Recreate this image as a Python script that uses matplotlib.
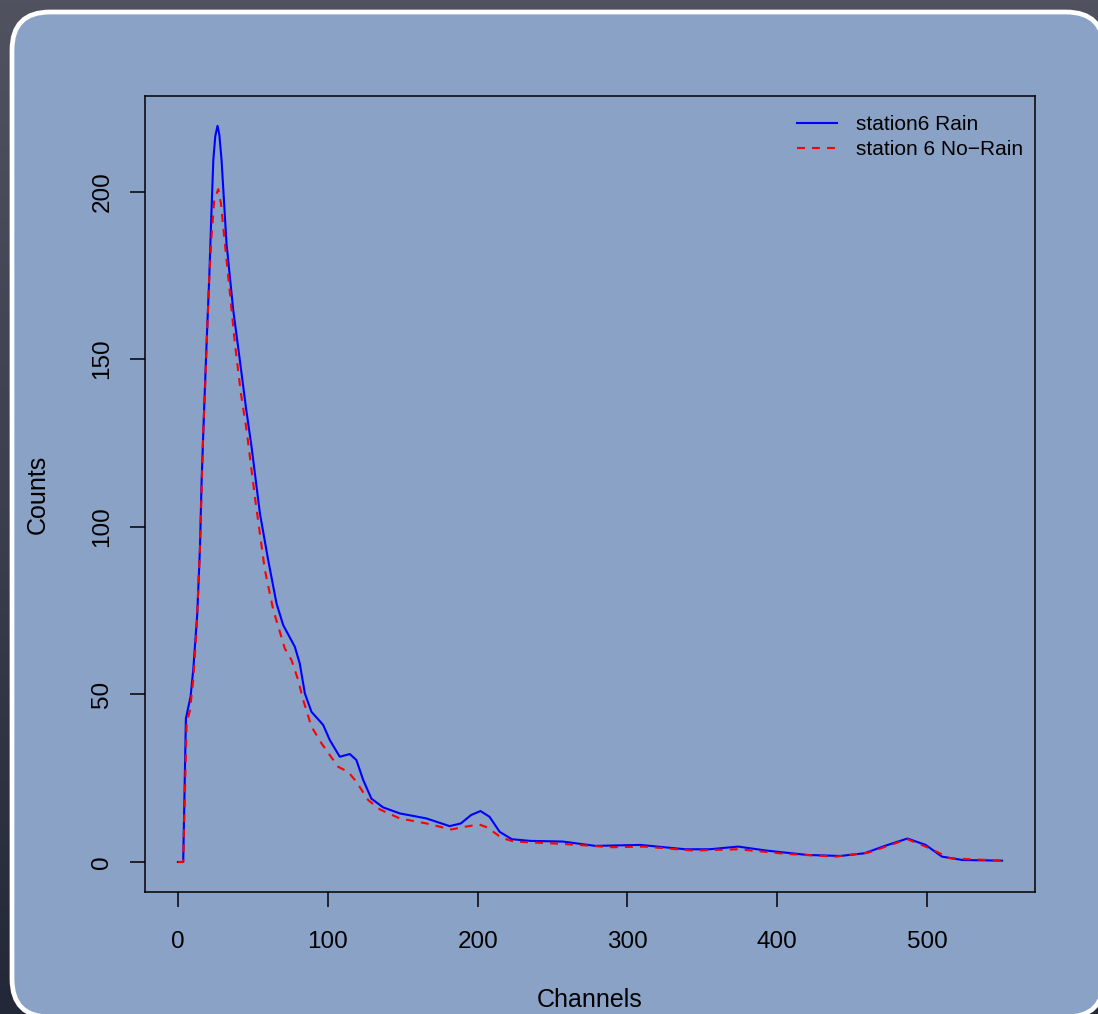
import numpy as np
import matplotlib
matplotlib.use("Agg")
import matplotlib.pyplot as plt
from matplotlib.patches import FancyBboxPatch
from matplotlib.colors import LinearSegmentedColormap

# ---- data ----
rain_x = [0, 3.5, 5.3, 8.4, 10.2, 12.9, 14.7, 15.8, 17.6, 19.1, 20.9, 22.4, 23.6, 24.9, 26.4,
          27.6, 29.1, 32.4, 36.9, 41.3, 45.3, 49.1, 54.7, 60.2, 65.8, 70.2, 78, 81.3,
          84.7, 89.1, 96.9, 101.3, 108, 114.7, 119.1, 123.6, 129.1, 136.9, 148, 165.8,
          181.3, 188.8, 195.6, 201.9, 207.9, 214.7, 222.8, 235, 256.9, 278.6,
          308.5, 338.5, 354.8, 373.9, 392.9, 420.1, 441.9, 458.2, 471.8, 486.8, 499,
          509.9, 523.5, 550]
rain_y = [0, 0, 42.8, 49.3, 57.3, 74.2, 94, 114, 136.8, 154.7, 174.6, 194.5, 209.4, 216.5, 219.6,
          217, 209.4, 184.5, 164.6, 149.7, 135.8, 123.9, 104, 90.1, 77.1, 70.7, 64.2, 59.2,
          50.3, 44.8, 40.9, 36.4, 31.4, 32.2, 30.4, 24.5, 18.9, 16.3, 14.5, 13,
          10.7, 11.5, 14, 15.2, 13.5, 9, 6.8, 6.3, 6.1, 4.8,
          5.1, 3.8, 3.8, 4.6, 3.4, 2.1, 1.8, 2.6, 4.8, 7.0, 5.1,
          1.6, 0.6, 0.4]

norain_x = [0, 3.5, 5.8, 8, 10.2, 12.4, 14.7, 16.9, 18, 19.6, 20.9, 22.4, 24.2, 26.9,
            28.7, 31.3, 34.7, 38, 42, 45.8, 51.3, 58, 63.6, 71.3, 75.8, 80.2, 83.6, 89.1,
            95.8, 101.3, 106.9, 113.6, 119.1, 126.9, 134.7, 148, 165.8, 182.4, 191.5, 201,
            206.5, 216, 224.2, 256.9, 289.5, 311.3, 343.9, 373.9, 406.5, 439.1, 460.9,
            486.8, 501.7, 515.3, 550]
norain_y = [0, 0, 41.4, 45.3, 54.3, 69.2, 94, 129, 139.8, 159.6, 174.6, 186.5, 197.4, 200.7,
            196.4, 184.5, 169.6, 154.7, 139.8, 128.8, 109, 87.1, 75.2, 63.7, 60.2, 54.3, 48.3, 40.4,
            35.4, 31.9, 28.4, 26.9, 23.9, 18.5, 15.7, 13, 11.5, 9.7, 10.5, 11.2,
            10.3, 7.2, 6.1, 5.4, 4.4, 4.6, 3.4, 3.8, 2.4, 1.6, 2.8,
            6.8, 4.1, 1.1, 0.4]

series_labels = ["station6 Rain", "station 6 No\u2212Rain"]
x_ticks = [0, 100, 200, 300, 400, 500]
y_ticks = [0, 50, 100, 150, 200]
x_label = "Channels"
y_label = "Counts"

# ---- figure ----
W, H = 1098, 1014
plt.rcParams['font.family'] = ['Liberation Sans', 'DejaVu Sans']
fig = plt.figure(figsize=(W / 100, H / 100), dpi=100)

# background axes in pixel units
bg = fig.add_axes([0, 0, 1, 1], zorder=0)
bg.set_xlim(0, W)
bg.set_ylim(H, 0)
bg.axis('off')
grad = np.linspace(0, 1, 256).reshape(-1, 1)
cm = LinearSegmentedColormap.from_list('bgc', ['#50535f', '#3b3f4e', '#232838'])
bg.imshow(grad, cmap=cm, extent=[0, W, H, 0], aspect='auto', zorder=0)
r = 38
pl, pt, pr, pb = 12, 12, 1104, 1017
panel = FancyBboxPatch((pl + r, pt + r), (pr - pl) - 2 * r, (pb - pt) - 2 * r,
                       boxstyle="round,pad=%d" % r, facecolor='#89a2c6',
                       edgecolor='white', linewidth=3.4, zorder=1, clip_on=False)
bg.add_patch(panel)

left, right, top, bottom = 145, 1035, 96, 892
ax = fig.add_axes([left / W, (H - bottom) / H, (right - left) / W, (bottom - top) / H], zorder=2)
ax.patch.set_alpha(0)

ax.plot(rain_x, rain_y, color='#0000ff', lw=1.5, label=series_labels[0])
ax.plot(norain_x, norain_y, color='#ff0000', lw=1.5, dashes=(3.8, 3.4), label=series_labels[1])

ax.set_xlim(-22, 572)
ax.set_ylim(-8.95, 228.5)
ax.set_xticks(x_ticks)
ax.set_yticks(y_ticks)
ax.set_xticklabels([str(v) for v in x_ticks])
ax.set_yticklabels([str(v) for v in y_ticks], rotation=90, va='center')
ax.tick_params(axis='both', length=10.8, width=1.1, labelsize=17.5, color='black')
ax.tick_params(axis='x', pad=17)
ax.tick_params(axis='y', pad=12)
for s in ax.spines.values():
    s.set_linewidth(1.1)
    s.set_color('black')

fig.text(590 / W, 1 - 1000 / H, x_label, ha='center', va='center', fontsize=18)
fig.text(38 / W, 1 - 494 / H, y_label, ha='center', va='center', fontsize=18, rotation=90)

leg = ax.legend(loc='upper right',
                bbox_to_anchor=((1023 - left) / (right - left), 1 - (115 - top) / (bottom - top)),
                frameon=False, fontsize=15, handlelength=1.95, handletextpad=0.9,
                labelspacing=0.28, borderpad=0, borderaxespad=0)

fig.savefig('out.png', dpi=100)
